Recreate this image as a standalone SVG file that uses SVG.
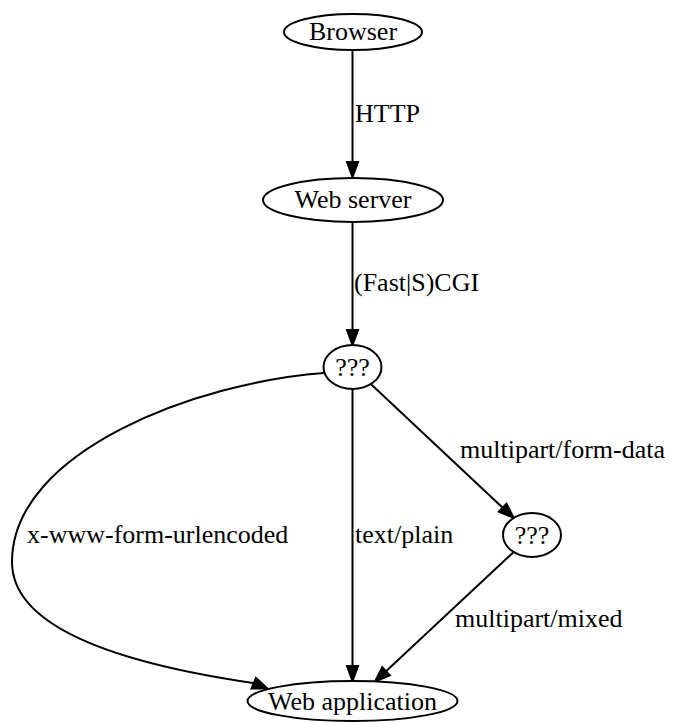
<svg xmlns="http://www.w3.org/2000/svg" width="673" height="722" viewBox="0 0 673 722">
  <style>
    .node ellipse { fill: #ffffff; stroke: #000000; stroke-width: 2; }
    .node text { font-family: "Liberation Serif", "Times New Roman", serif; font-size: 26px; fill: #000000; text-anchor: middle; }
    .edge path { fill: none; stroke: #000000; stroke-width: 2; }
    .edge polygon { fill: #000000; stroke: #000000; stroke-width: 2; stroke-linejoin: miter; }
    .edge text { font-family: "Liberation Serif", "Times New Roman", serif; font-size: 26px; fill: #000000; }
  </style>
  <rect width="673" height="722" fill="#ffffff"/>

  <!-- connectors -->
  <g id="edges">
    <g class="edge" id="browser-webserver">
      <path d="M352.5,50 L352.5,162"/>
      <polygon points="347,162 358,162 352.5,177"/>
      <text x="355" y="122">HTTP</text>
    </g>
    <g class="edge" id="webserver-dispatch">
      <path d="M352.5,222 L352.5,330"/>
      <polygon points="347,330 358,330 352.5,345"/>
      <text x="354" y="291">(Fast|S)CGI</text>
    </g>
    <g class="edge" id="dispatch-webapp-urlencoded">
      <path d="M324,373 C200,382 12,450 12,562 C12,625 110,662 253,683"/>
      <polygon points="251.5,688.5 256,678 267.5,688.5"/>
      <text x="27" y="543">x-www-form-urlencoded</text>
    </g>
    <g class="edge" id="dispatch-webapp-plain">
      <path d="M352.5,389 L352.5,666"/>
      <polygon points="347,666 358,666 352.5,681"/>
      <text x="355" y="543">text/plain</text>
    </g>
    <g class="edge" id="dispatch-multipart">
      <path d="M370.8,384.1 L502.7,507.7"/>
      <polygon points="498.9,511.7 506.5,503.7 513.7,517.9"/>
      <text x="460" y="458">multipart/form-data</text>
    </g>
    <g class="edge" id="multipart-webapp">
      <path d="M513.7,552 L386,671.3"/>
      <polygon points="382.2,667.3 389.8,675.3 375,681.5"/>
      <text x="455" y="627">multipart/mixed</text>
    </g>
  </g>

  <!-- nodes -->
  <g class="node" id="browser">
    <ellipse cx="353" cy="32" rx="69" ry="18"/>
    <text x="353" y="40">Browser</text>
  </g>
  <g class="node" id="webserver">
    <ellipse cx="353" cy="200" rx="90" ry="22"/>
    <text x="353" y="208">Web server</text>
  </g>
  <g class="node" id="dispatch">
    <ellipse cx="352.5" cy="367" rx="29" ry="22"/>
    <text x="352.5" y="376">???</text>
  </g>
  <g class="node" id="multipart">
    <ellipse cx="532" cy="535" rx="29" ry="22"/>
    <text x="532" y="544">???</text>
  </g>
  <g class="node" id="webapp">
    <ellipse cx="352.5" cy="701" rx="105" ry="20"/>
    <text x="352.5" y="710">Web application</text>
  </g>
</svg>
